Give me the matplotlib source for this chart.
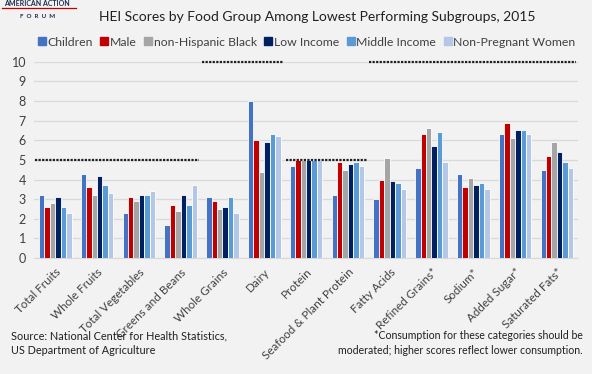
import numpy as np
import matplotlib
matplotlib.use("Agg")
import matplotlib.pyplot as plt
from matplotlib.lines import Line2D

plt.rcParams['font.family'] = ['Lato', 'DejaVu Sans']

# categories and the max score for each food group
groups = ["Total Fruits", "Whole Fruits", "Total Vegetables", "Greens and Beans",
          "Whole Grains", "Dairy", "Protein", "Seafood & Plant Protein",
          "Fatty Acids", "Refined Grains*", "Sodium*", "Added Sugar*", "Saturated Fats*"]
max_score = [5, 5, 5, 5, 10, 10, 5, 5, 10, 10, 10, 10, 10]

series = ["Children", "Male", "non-Hispanic Black", "Low Income", "Middle Income", "Non-Pregnant Women"]
colors = ["#4472C4", "#C00000", "#A5A5A5", "#002060", "#5B9BD5", "#B4C7E7"]

children = [3.2, 4.3, 2.3, 1.7, 3.1, 8.0, 4.7, 3.2, 3.0, 4.6, 4.3, 6.3, 4.5]
male = [2.6, 3.6, 3.1, 2.7, 2.9, 6.0, 5.0, 4.9, 4.0, 6.3, 3.6, 6.9, 5.2]
nh_black = [2.8, 3.2, 2.9, 2.4, 2.5, 4.4, 5.0, 4.5, 5.1, 6.6, 4.1, 6.1, 5.9]
low_income = [3.1, 4.2, 3.2, 3.2, 2.6, 5.9, 5.0, 4.8, 3.9, 5.7, 3.7, 6.5, 5.4]
mid_income = [2.6, 3.7, 3.2, 2.7, 3.1, 6.3, 5.0, 4.9, 3.8, 6.4, 3.8, 6.5, 4.9]
non_preg = [2.3, 3.3, 3.4, 3.7, 2.3, 6.2, 5.0, 4.7, 3.5, 4.9, 3.5, 6.3, 4.6]
values = [children, male, nh_black, low_income, mid_income, non_preg]

bg = "#F2F2F2"
fig = plt.figure(figsize=(5.92, 3.74), dpi=100, facecolor=bg)
ax = fig.add_axes([0.058, 0.310, 0.918, 0.525], facecolor=bg)

x = np.arange(len(groups))
w = 0.13
for i, (name, vals) in enumerate(zip(series, values)):
    ax.bar(x + (i - 2.5) * w, vals, w, color=colors[i], edgecolor="white",
           linewidth=0.6, label=name, zorder=3)

# dotted lines marking the max score over runs of groups
start = 0
for i in range(1, len(groups) + 1):
    if i == len(groups) or max_score[i] != max_score[start]:
        ax.plot([start - 0.49, i - 1 + 0.45], [max_score[start]] * 2, color="#202020",
                linestyle=(0, (1, 0.6)), linewidth=1.6, zorder=4, clip_on=False)
        start = i

ax.set_ylim(0, 10)
ax.set_xlim(-0.5, len(groups) - 0.5)
ax.set_yticks(range(0, 11))
ax.grid(axis="y", color="#D9D9D9", linewidth=0.9, zorder=0)
for s in ["top", "right", "left"]:
    ax.spines[s].set_visible(False)
ax.spines["bottom"].set_color("#D9D9D9")
ax.tick_params(axis="y", length=0, labelsize=9, colors="#404040", pad=6)
ax.tick_params(axis="x", length=0, labelsize=8.4, colors="#404040", pad=6)
ax.set_xticks(x)
ax.set_xticklabels(groups, rotation=45, ha="right", rotation_mode="anchor")

fig.text(0.536, 0.955, "HEI Scores by Food Group Among Lowest Performing Subgroups, 2015",
         ha="center", va="center", fontsize=10, color="#202020")

handles = [Line2D([], [], marker="s", linestyle="", color=c, markersize=5.5) for c in colors]
fig.legend(handles, series, loc="center", bbox_to_anchor=(0.517, 0.887), ncol=6,
           frameon=False, fontsize=8.8, handletextpad=0.05, columnspacing=0.55,
           handlelength=0.8, labelcolor="#404040")

# logo
fig.text(0.063, 0.990, "AMERICAN ACTION", ha="center", va="center", fontsize=5,
         fontweight="bold", color="#1F2B4D")
fig.add_artist(Line2D([0.003, 0.128], [0.978, 0.978], color="#C00000", linewidth=0.9))
fig.text(0.063, 0.955, "F  O  R  U  M", ha="center", va="center", fontsize=4.5,
         fontweight="bold", color="#1F2B4D")

fig.text(0.018, 0.049, "Source: National Center for Health Statistics,\nUS Department of Agriculture",
         ha="left", va="bottom", fontsize=7.8, color="#202020", linespacing=1.4)
fig.text(0.985, 0.049, "*Consumption for these categories should be\nmoderated; higher scores reflect lower consumption.",
         ha="right", va="bottom", fontsize=7.6, color="#202020", linespacing=1.4)

fig.savefig("out.png", dpi=100, facecolor=bg)
